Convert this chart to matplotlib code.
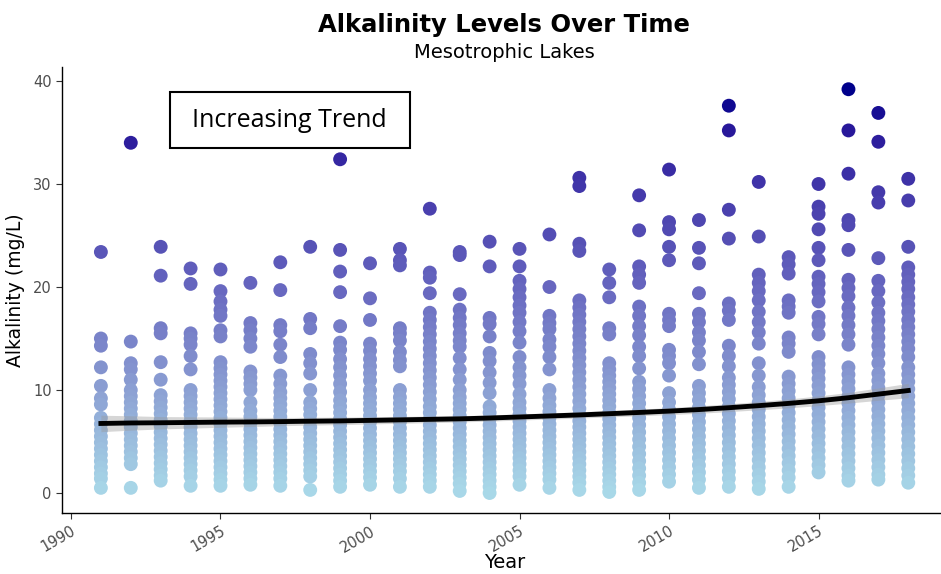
import numpy as np
import matplotlib
matplotlib.use("Agg")
import matplotlib.pyplot as plt
from matplotlib.colors import LinearSegmentedColormap
from matplotlib.patches import Rectangle

plt.rcParams['font.family'] = ['DejaVu Sans']

# alkalinity readings (mg/L) per sampling year
alk_1991 = [23.4, 15.0, 14.3, 12.2, 10.4, 9.2, 8.6, 7.3, 6.7, 6.1, 5.5, 4.9, 4.3, 3.7, 3.1, 2.5, 1.9, 1.4, 0.5]
alk_1992 = [34.0, 14.7, 12.6, 12.0, 11.0, 10.0, 9.4, 8.8, 8.2, 7.6, 7.0, 6.4, 5.8, 5.2, 4.6, 4.0, 3.4, 2.8, 0.5]
alk_1993 = [23.9, 21.1, 16.0, 15.5, 12.7, 11.0, 9.5, 8.9, 8.3, 7.7, 7.1, 6.5, 5.9, 5.3, 4.7, 4.1, 3.5, 2.9, 2.3, 1.7, 1.2]
alk_1994 = [21.8, 20.3, 15.5, 15.0, 14.4, 13.3, 12.0, 10.0, 9.4, 8.8, 8.2, 7.6, 7.0, 6.4, 5.8, 5.2, 4.6, 4.0, 3.4, 2.8, 2.2, 1.6, 0.7]
alk_1995 = [21.7, 19.6, 18.6, 17.8, 17.2, 15.8, 15.2, 12.7, 12.1, 11.5, 10.9, 10.3, 9.7, 9.1, 8.5, 7.9, 7.3, 6.7, 6.1, 5.5, 4.9, 4.3, 3.7, 3.1, 2.5, 1.9, 1.3, 0.7]
alk_1996 = [20.4, 16.5, 15.8, 15.0, 14.2, 11.8, 11.2, 10.6, 10.0, 8.8, 8.0, 7.4, 6.8, 6.2, 5.6, 5.0, 4.4, 3.8, 3.2, 2.6, 2.0, 1.4, 0.8]
alk_1997 = [22.4, 19.7, 16.3, 15.7, 14.4, 13.2, 11.4, 10.6, 9.8, 9.2, 8.6, 8.0, 7.4, 6.8, 6.2, 5.6, 5.0, 4.4, 3.8, 3.2, 2.6, 2.0, 1.4, 0.7]
alk_1998 = [23.9, 16.9, 16.0, 13.5, 12.6, 11.6, 10.0, 8.8, 8.2, 7.6, 7.0, 6.4, 5.8, 5.2, 4.6, 4.0, 3.4, 2.8, 2.2, 1.6, 0.3]
alk_1999 = [32.4, 23.6, 21.5, 19.5, 16.2, 14.6, 13.9, 13.0, 12.2, 11.4, 10.6, 9.8, 9.0, 8.4, 7.8, 7.2, 6.6, 6.0, 5.4, 4.8, 4.2, 3.6, 3.0, 2.4, 1.8, 1.2, 0.6]
alk_2000 = [22.3, 18.9, 16.8, 14.5, 13.8, 13.0, 12.3, 11.6, 10.9, 10.0, 9.3, 8.7, 8.1, 7.5, 6.9, 6.3, 5.7, 5.1, 4.5, 3.9, 3.3, 2.7, 2.1, 1.5, 0.8]
alk_2001 = [23.7, 22.6, 22.1, 16.0, 15.5, 14.8, 13.7, 12.9, 12.3, 10.0, 9.3, 8.7, 8.1, 7.5, 6.9, 6.3, 5.7, 5.1, 4.5, 3.9, 3.3, 2.7, 2.1, 1.4, 0.6]
alk_2002 = [27.6, 21.4, 20.9, 19.4, 17.5, 16.8, 16.1, 15.4, 14.7, 14.0, 13.3, 12.6, 11.9, 11.2, 10.5, 9.8, 9.1, 8.4, 7.8, 7.2, 6.6, 6.0, 5.4, 4.8, 4.2, 3.6, 3.0, 2.4, 1.8, 1.2, 0.6]
alk_2003 = [23.4, 23.1, 19.3, 17.8, 17.0, 16.3, 15.5, 14.8, 14.2, 13.1, 12.0, 11.0, 10.0, 9.3, 8.7, 8.1, 7.5, 6.9, 6.3, 5.7, 5.1, 4.5, 3.9, 3.3, 2.7, 2.1, 1.5, 0.9, 0.2]
alk_2004 = [24.4, 22.0, 17.0, 16.4, 15.2, 13.6, 12.8, 11.7, 10.7, 9.7, 8.4, 7.8, 7.2, 6.6, 6.0, 5.4, 4.8, 4.2, 3.6, 3.0, 2.4, 1.8, 1.2, 0.6, 0.0]
alk_2005 = [23.7, 22.0, 20.6, 19.8, 19.0, 18.2, 17.5, 16.6, 15.7, 14.6, 13.2, 12.2, 11.4, 10.6, 9.6, 8.8, 8.2, 7.6, 7.0, 6.4, 5.8, 5.2, 4.6, 4.0, 3.4, 2.8, 2.2, 1.6, 0.8]
alk_2006 = [25.1, 20.0, 17.2, 16.5, 15.9, 14.9, 14.2, 13.2, 12.0, 10.0, 9.2, 8.5, 7.9, 7.3, 6.7, 6.1, 5.5, 4.9, 4.3, 3.7, 3.1, 2.5, 1.9, 1.3, 0.5]
alk_2007 = [30.6, 29.8, 24.2, 23.5, 18.7, 18.0, 17.3, 16.6, 15.9, 15.2, 14.5, 13.8, 13.1, 12.4, 11.7, 11.0, 10.3, 9.6, 8.9, 8.2, 7.6, 7.0, 6.4, 5.8, 5.2, 4.6, 4.0, 3.4, 2.8, 2.2, 1.6, 1.0, 0.3]
alk_2008 = [21.7, 20.4, 19.0, 16.0, 15.4, 12.6, 12.0, 11.4, 10.8, 10.2, 9.6, 9.0, 8.4, 7.8, 7.2, 6.6, 6.0, 5.4, 4.8, 4.2, 3.6, 3.0, 2.4, 1.8, 1.2, 0.6, 0.1]
alk_2009 = [28.9, 25.5, 22.0, 21.2, 20.4, 18.1, 17.2, 16.2, 15.3, 14.2, 13.3, 12.1, 10.8, 10.1, 9.4, 8.7, 8.0, 7.3, 6.6, 5.9, 5.2, 4.5, 3.8, 3.1, 2.4, 1.7, 1.0, 0.3]
alk_2010 = [31.4, 26.3, 25.6, 23.9, 22.6, 17.4, 16.8, 16.2, 13.9, 13.3, 12.6, 11.4, 9.7, 8.8, 8.1, 7.4, 6.7, 6.0, 5.3, 4.6, 3.9, 3.2, 2.5, 1.8, 1.1]
alk_2011 = [26.5, 23.8, 22.3, 19.4, 17.4, 16.6, 15.6, 14.8, 13.7, 12.5, 10.4, 9.7, 9.0, 8.3, 7.6, 6.9, 6.2, 5.5, 4.8, 4.1, 3.4, 2.7, 2.0, 1.3, 0.5]
alk_2012 = [37.6, 35.2, 27.5, 24.7, 18.4, 17.7, 16.8, 14.3, 13.3, 12.3, 11.2, 10.5, 9.8, 9.1, 8.4, 7.7, 7.0, 6.3, 5.6, 4.9, 4.2, 3.5, 2.8, 2.1, 1.4, 0.6]
alk_2013 = [30.2, 24.9, 21.2, 20.4, 19.6, 18.7, 17.6, 16.6, 15.6, 14.5, 12.6, 11.4, 10.3, 9.5, 8.8, 8.1, 7.4, 6.7, 6.0, 5.3, 4.6, 3.9, 3.2, 2.5, 1.8, 1.1, 0.4]
alk_2014 = [22.9, 22.2, 21.3, 18.7, 18.1, 17.5, 15.1, 14.5, 13.7, 11.3, 10.6, 9.9, 9.2, 8.5, 7.8, 7.1, 6.4, 5.7, 5.0, 4.3, 3.6, 2.9, 2.2, 1.5, 0.6]
alk_2015 = [30.0, 27.8, 27.1, 25.6, 23.8, 22.6, 21.0, 20.3, 19.5, 18.6, 17.1, 16.4, 15.4, 13.2, 12.5, 11.8, 11.1, 10.4, 9.7, 9.0, 8.3, 7.6, 6.9, 6.2, 5.5, 4.8, 4.1, 3.4, 2.7, 2.0]
alk_2016 = [39.2, 35.2, 31.0, 26.5, 26.0, 23.6, 20.7, 19.9, 19.1, 18.0, 17.2, 16.3, 15.4, 14.4, 12.2, 11.5, 10.8, 10.1, 9.4, 8.7, 8.0, 7.3, 6.6, 5.9, 5.2, 4.5, 3.8, 3.1, 2.4, 1.7, 1.2]
alk_2017 = [36.9, 34.1, 29.2, 28.2, 22.8, 20.6, 19.6, 18.5, 17.5, 16.7, 15.9, 15.1, 14.3, 13.5, 12.6, 11.6, 10.9, 10.2, 9.5, 8.8, 8.1, 7.4, 6.7, 6.0, 5.3, 4.6, 3.9, 3.2, 2.5, 1.8, 1.3]
alk_2018 = [30.5, 28.4, 23.9, 21.9, 21.2, 20.5, 19.8, 19.0, 18.3, 17.6, 16.8, 16.1, 15.4, 14.7, 14.0, 13.2, 12.2, 11.5, 10.8, 10.1, 9.4, 8.7, 8.0, 7.3, 6.6, 5.9, 5.2, 4.5, 3.8, 3.1, 2.4, 1.7, 1.0]

years = list(range(1991, 2019))

# smoothed trend and its band half-width
trend_fit = [6.75, 6.8, 6.82, 6.85, 6.88, 6.9, 6.93, 6.97, 7.0, 7.05, 7.1, 7.15, 7.2, 7.28,
             7.38, 7.48, 7.58, 7.7, 7.82, 7.95, 8.1, 8.28, 8.48, 8.7, 8.95, 9.25, 9.6, 9.95]
trend_se = [0.8, 0.7, 0.6, 0.55, 0.5, 0.45, 0.4, 0.38, 0.36, 0.35, 0.33, 0.32, 0.3, 0.3,
            0.3, 0.3, 0.3, 0.31, 0.32, 0.34, 0.36, 0.38, 0.4, 0.43, 0.47, 0.52, 0.6, 0.7]

x_ticks = [1990, 1995, 2000, 2005, 2010, 2015]
y_ticks = [0, 10, 20, 30, 40]

all_years = [alk_1991, alk_1992, alk_1993, alk_1994, alk_1995, alk_1996, alk_1997,
             alk_1998, alk_1999, alk_2000, alk_2001, alk_2002, alk_2003, alk_2004,
             alk_2005, alk_2006, alk_2007, alk_2008, alk_2009, alk_2010, alk_2011,
             alk_2012, alk_2013, alk_2014, alk_2015, alk_2016, alk_2017, alk_2018]

xs, ys = [], []
for yr, vals in zip(years, all_years):
    xs += [yr] * len(vals)
    ys += vals
xs = np.array(xs)
ys = np.array(ys)

# lightblue -> darkblue gradient
cmap = LinearSegmentedColormap.from_list(
    "alk", [(0.0, "#A8D8E8"), (0.25, "#8CA0D3"), (0.5, "#6868C0"),
            (0.75, "#4338AA"), (0.9, "#28189A"), (1.0, "#00008B")])

fig = plt.figure(figsize=(9.41, 5.74), dpi=100)
ax = fig.add_axes([0.0659, 0.1063, 0.933, 0.777])

ax.scatter(xs, ys, c=ys, cmap=cmap, vmin=ys.min(), vmax=ys.max(), s=100,
           linewidths=0, zorder=2)

fit = np.array(trend_fit)
se = np.array(trend_se)
ax.fill_between(years, fit - se, fit + se, color="#999999", alpha=0.4,
                linewidth=0, zorder=3)
ax.plot(years, fit, color="black", lw=3.5, zorder=4)

ax.set_xlim(1989.7, 2019.06)
ax.set_ylim(-1.94, 41.36)
ax.set_xticks(x_ticks)
ax.set_yticks(y_ticks)
for s in ["top", "right"]:
    ax.spines[s].set_visible(False)
for s in ["left", "bottom"]:
    ax.spines[s].set_linewidth(1.0)
ax.tick_params(axis="both", labelcolor="#4D4D4D", labelsize=10.5, length=4,
               width=0.8, color="#333333")
plt.setp(ax.get_xticklabels(), rotation=30, ha="right", rotation_mode="anchor")

fig.text(0.536, 1 - 563 / 574, "Year", ha="center", va="center", fontsize=14)
ax.set_ylabel("Alkalinity (mg/L)", fontsize=13.5, labelpad=6)

fig.text(0.536, 0.957, "Alkalinity Levels Over Time", ha="center", va="center",
         fontsize=17.5, fontweight="bold")
fig.text(0.536, 0.908, "Mesotrophic Lakes", ha="center", va="center", fontsize=14)

# annotation box
fig.add_artist(Rectangle((170 / 941, 1 - 148 / 574), 240 / 941, 56 / 574,
                         transform=fig.transFigure, fill=False,
                         edgecolor="black", linewidth=1.5))
fig.text(289 / 941, 1 - 121 / 574, "Increasing Trend", ha="center", va="center",
         fontsize=18, family=["Open Sans", "DejaVu Sans"])

fig.savefig("out.png", dpi=100)
